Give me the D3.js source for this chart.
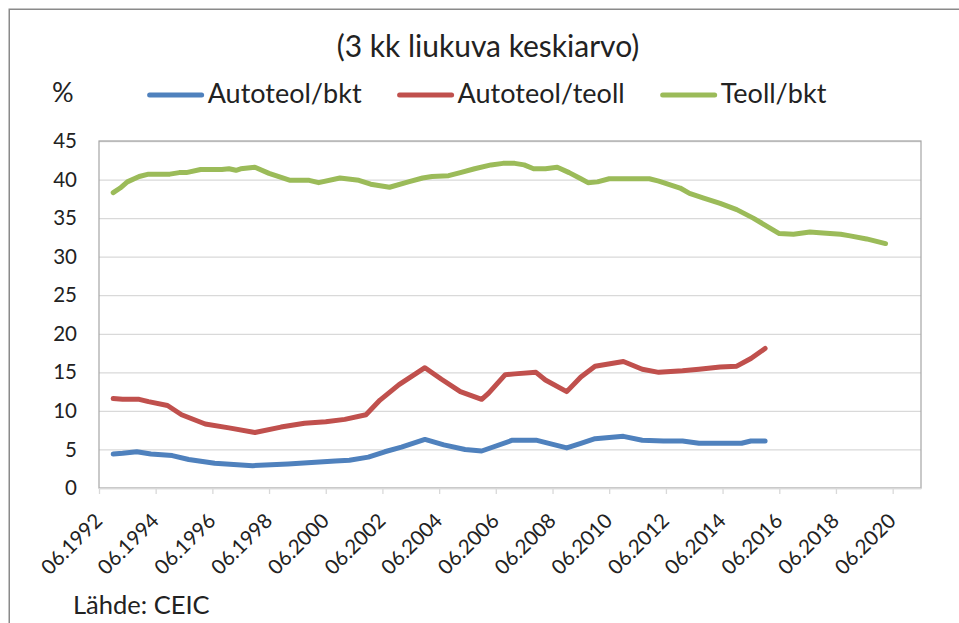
<!DOCTYPE html>
<html>
<head>
<meta charset="utf-8">
<script src="https://cdn.jsdelivr.net/npm/d3@7"></script>
<style>
  body { margin: 0; background: #fff; }
  text { font-family: Lato, "Liberation Sans", sans-serif; fill: #222; }
</style>
</head>
<body>
<script>
// Values (month, %)
var autoBktDates = ["1992-12","1993-04","1993-10","1994-04","1995-01","1995-08","1996-07","1997-11",
  "1999-02","1999-12","2000-10","2001-04","2001-12","2002-07","2003-02","2003-12","2004-08","2005-05",
  "2005-12","2007-01","2007-11","2008-12","2009-06","2009-12","2010-12","2011-08","2012-05","2013-01",
  "2013-08","2015-02","2015-06","2015-12"];
var autoBktValues = [4.4,4.5,4.7,4.4,4.2,3.7,3.2,2.9,
  3.1,3.3,3.5,3.6,4.0,4.7,5.3,6.3,5.6,5.0,
  4.8,6.2,6.2,5.2,5.8,6.4,6.7,6.2,6.1,6.1,
  5.8,5.8,6.1,6.1];

var autoTeollDates = ["1992-12","1993-04","1993-11","1994-03","1994-11","1995-05","1996-03","1997-01",
  "1997-12","1998-11","1999-09","2000-06","2001-02","2001-11","2002-05","2003-01","2003-12","2004-07",
  "2005-03","2005-12","2006-03","2006-10","2007-02","2007-11","2008-03","2008-12","2009-06","2009-12",
  "2010-12","2011-08","2012-03","2013-01","2013-08","2014-05","2014-12","2015-06","2015-12"];
var autoTeollValues = [11.6,11.5,11.5,11.2,10.7,9.5,8.3,7.8,
  7.2,7.9,8.4,8.6,8.9,9.5,11.4,13.4,15.6,14.1,
  12.5,11.5,12.3,14.7,14.8,15.0,14.0,12.5,14.4,15.8,
  16.4,15.4,15.0,15.2,15.4,15.7,15.8,16.8,18.1];

var teollBktDates = ["1992-12","1993-03","1993-06","1993-11","1994-03","1994-12","1995-04","1995-07",
  "1996-01","1996-10","1997-01","1997-04","1997-06","1997-12","1998-06","1999-03","1999-11","2000-03",
  "2000-12","2001-08","2002-01","2002-09","2003-05","2003-11","2004-03","2004-10","2005-03","2005-09",
  "2006-04","2006-09","2007-02","2007-06","2007-10","2008-03","2008-08","2009-01","2009-06","2009-09",
  "2010-01","2010-06","2011-11","2012-03","2012-12","2013-04","2013-10","2014-05","2014-12","2015-07",
  "2016-01","2016-06","2016-12","2017-07","2017-11","2018-08","2018-12","2019-07","2020-03"];
var teollBktValues = [38.3,38.9,39.7,40.4,40.7,40.7,40.9,40.9,
  41.3,41.3,41.4,41.2,41.4,41.6,40.8,39.9,39.9,39.6,
  40.2,39.9,39.4,39.0,39.7,40.2,40.4,40.5,40.9,41.4,
  41.9,42.1,42.1,41.9,41.4,41.4,41.6,40.9,40.1,39.6,
  39.7,40.1,40.1,39.8,38.9,38.2,37.6,36.9,36.1,35.0,
  33.9,33.0,32.9,33.2,33.1,32.9,32.7,32.3,31.7];

var seriesNames = ["Autoteol/bkt", "Autoteol/teoll", "Teoll/bkt"];
var seriesColors = ["#4f81bd", "#c0504d", "#9bbb59"];
var yTicks = [0, 5, 10, 15, 20, 25, 30, 35, 40, 45];
var xTickLabels = ["06.1992","06.1994","06.1996","06.1998","06.2000","06.2002","06.2004",
  "06.2006","06.2008","06.2010","06.2012","06.2014","06.2016","06.2018","06.2020"];

var parseMonth = d3.timeParse("%Y-%m");
var parseTick = d3.timeParse("%m.%Y");

function makeSeries(dates, values) {
  return dates.map(function(d, i) { return {date: parseMonth(d), value: values[i]}; });
}
var series = [
  makeSeries(autoBktDates, autoBktValues),
  makeSeries(autoTeollDates, autoTeollValues),
  makeSeries(teollBktDates, teollBktValues)
];

var margin = {top: 141, right: 38, bottom: 135, left: 99},
    width = 959 - margin.left - margin.right,
    height = 623 - margin.top - margin.bottom;

var svgRoot = d3.select("body").append("svg")
    .attr("width", 959)
    .attr("height", 623);

// outer chart border (runs off the page on the right and bottom)
svgRoot.append("rect")
    .attr("x", 9.25).attr("y", 9.25)
    .attr("width", 1000).attr("height", 700)
    .attr("fill", "none")
    .attr("stroke", "#8a8a8a")
    .attr("stroke-width", 1.5);

svgRoot.append("text")
    .attr("x", 488).attr("y", 57)
    .attr("text-anchor", "middle")
    .style("font-size", "30px")
    .text("(3 kk liukuva keskiarvo)");

svgRoot.append("text")
    .attr("x", 52).attr("y", 102)
    .style("font-size", "27px")
    .text("%");

// legend, centred like the title
var legend = svgRoot.append("g");
var lx = 0;
seriesNames.forEach(function(name, i) {
  legend.append("line")
      .attr("x1", lx).attr("x2", lx + 52)
      .attr("y1", 95).attr("y2", 95)
      .attr("stroke", seriesColors[i])
      .attr("stroke-width", 5)
      .attr("stroke-linecap", "round");
  var t = legend.append("text")
      .attr("x", lx + 58).attr("y", 103)
      .style("font-size", "27px")
      .text(name);
  lx += 58 + t.node().getComputedTextLength() + 38;
});
var legendWidth = lx - 38;
legend.attr("transform", "translate(" + (488 - legendWidth / 2) + ",0)");

var svg = svgRoot.append("g")
    .attr("transform", "translate(" + margin.left + "," + margin.top + ")");

var x = d3.scaleTime()
    .domain([parseTick("06.1992"), parseTick("06.2021")])
    .range([0, width]);

var y = d3.scaleLinear()
    .domain([0, 45])
    .range([height, 0]);

// gridlines
svg.append("g")
    .call(d3.axisLeft(y).tickValues(yTicks).tickSize(-width).tickFormat(""))
    .call(function(g) { g.select(".domain").remove(); })
    .selectAll("line")
      .attr("stroke", "#d9d9d9")
      .attr("stroke-width", 1.3);

// plot area border
svg.append("rect")
    .attr("width", width).attr("height", height)
    .attr("fill", "none")
    .attr("stroke", "#a6a6a6")
    .attr("stroke-width", 1.2);

// y axis labels
svg.append("g")
    .call(d3.axisLeft(y).tickValues(yTicks).tickSize(0).tickPadding(22))
    .call(function(g) { g.select(".domain").remove(); })
    .selectAll("text")
      .style("font-size", "20.5px")
      .attr("fill", "#222");

// x axis
var xAxis = svg.append("g")
    .attr("transform", "translate(0," + height + ")")
    .call(d3.axisBottom(x)
      .tickValues(xTickLabels.map(parseTick))
      .tickSize(6)
      .tickSizeOuter(0)
      .tickFormat(d3.timeFormat("%m.%Y")));
xAxis.select(".domain").attr("stroke", "#d9d9d9").attr("stroke-width", 1.5);
xAxis.selectAll("line").attr("stroke", "#d9d9d9").attr("stroke-width", 1.3);
xAxis.selectAll("text")
    .attr("x", 0).attr("y", 0)
    .attr("dy", "0.35em")
    .attr("text-anchor", "end")
    .attr("transform", "translate(-1,29) rotate(-45)")
    .style("font-size", "20.5px")
    .attr("fill", "#222");

// series lines
var line = d3.line()
    .x(function(d) { return x(d.date); })
    .y(function(d) { return y(d.value); });

svg.selectAll(".series")
    .data(series)
    .enter()
    .append("path")
      .attr("class", "series")
      .attr("d", line)
      .attr("fill", "none")
      .attr("stroke", function(d, i) { return seriesColors[i]; })
      .attr("stroke-width", 5)
      .attr("stroke-linejoin", "round")
      .attr("stroke-linecap", "round");

svgRoot.append("text")
    .attr("x", 73).attr("y", 614)
    .style("font-size", "25.5px")
    .text("Lähde: CEIC");
</script>
</body>
</html>
